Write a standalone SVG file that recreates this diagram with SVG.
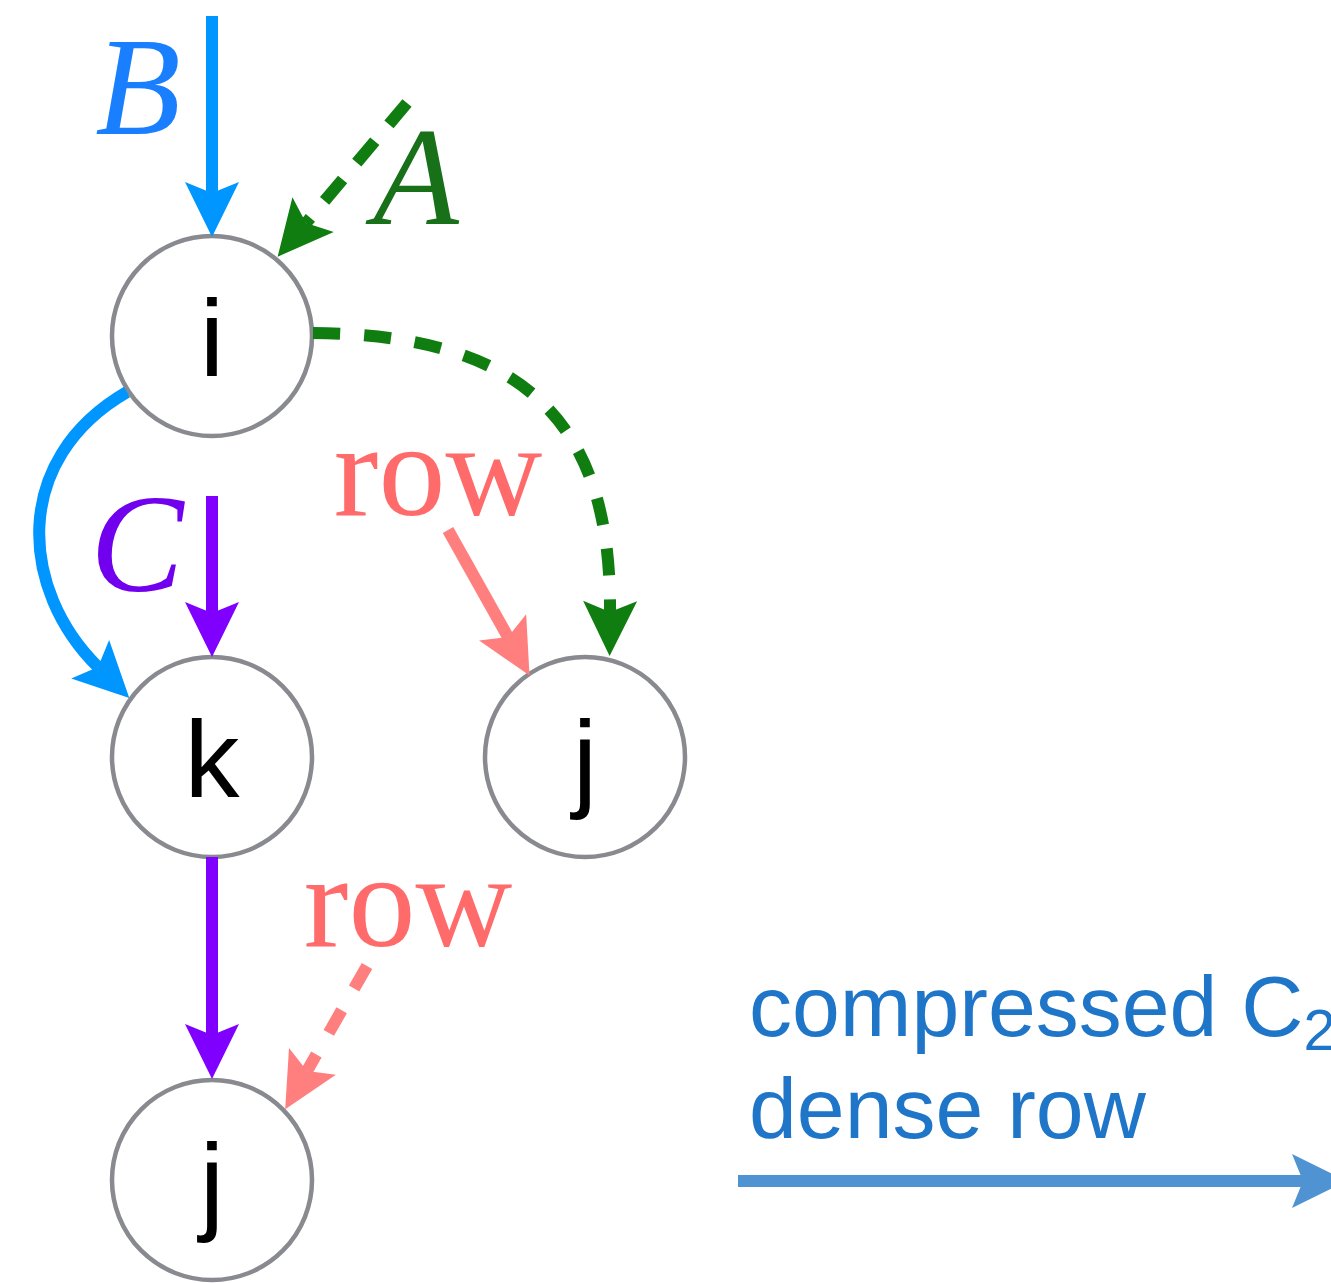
<svg xmlns="http://www.w3.org/2000/svg" width="1331" height="1283" viewBox="0 0 1331 1283">
  <style>
    .node circle { fill: #ffffff; stroke: #898a8f; stroke-width: 4.5; }
    .node text { font-family: "Liberation Sans", Arial, sans-serif; font-size: 110px; fill: #000000; text-anchor: middle; }
    .edge { fill: none; stroke-width: 12; stroke-linecap: butt; }
    .math { font-family: "Liberation Serif", "Times New Roman", serif; font-style: italic; font-size: 140px; text-anchor: middle; }
    .rowlbl { font-family: "Liberation Serif", "Times New Roman", serif; font-size: 134px; fill: #ff6b6b; text-anchor: middle; }
    .caption { font-family: "Liberation Sans", Arial, sans-serif; font-size: 86px; fill: #1f76c8; }
  </style>
  <defs>
    <marker id="ah-blue" markerUnits="userSpaceOnUse" markerWidth="60" markerHeight="60" refX="0" refY="0" orient="auto" overflow="visible">
      <path d="M44,0 L-11,-27 L0,0 L-11,27 Z" fill="#0096ff"/>
    </marker>
    <marker id="ah-green" markerUnits="userSpaceOnUse" markerWidth="60" markerHeight="60" refX="0" refY="0" orient="auto" overflow="visible">
      <path d="M44,0 L-11,-27 L0,0 L-11,27 Z" fill="#0f7d0f"/>
    </marker>
    <marker id="ah-purple" markerUnits="userSpaceOnUse" markerWidth="60" markerHeight="60" refX="0" refY="0" orient="auto" overflow="visible">
      <path d="M44,0 L-11,-27 L0,0 L-11,27 Z" fill="#7f00ff"/>
    </marker>
    <marker id="ah-pink" markerUnits="userSpaceOnUse" markerWidth="60" markerHeight="60" refX="0" refY="0" orient="auto" overflow="visible">
      <path d="M44,0 L-11,-27 L0,0 L-11,27 Z" fill="#ff7f7f"/>
    </marker>
    <marker id="ah-steel" markerUnits="userSpaceOnUse" markerWidth="60" markerHeight="60" refX="0" refY="0" orient="auto" overflow="visible">
      <path d="M44,0 L-11,-27 L0,0 L-11,27 Z" fill="#4f93d3"/>
    </marker>
  </defs>

  <g id="node-i" class="node">
    <circle cx="212" cy="336" r="100"/>
    <text x="212" y="376">i</text>
  </g>
  <g id="node-k" class="node">
    <circle cx="212" cy="757" r="100"/>
    <text x="212" y="797">k</text>
  </g>
  <g id="node-j-right" class="node">
    <circle cx="585" cy="757" r="100"/>
    <text x="585" y="797">j</text>
  </g>
  <g id="node-j-bottom" class="node">
    <circle cx="212" cy="1180" r="100"/>
    <text x="212" y="1220">j</text>
  </g>

  <g id="connectors">
    <path class="edge" d="M212,16 L212,193" stroke="#0096ff" marker-end="url(#ah-blue)"/>
    <path class="edge" d="M407,103 L306,223" stroke="#0f7d0f" stroke-dasharray="28 22" marker-end="url(#ah-green)"/>
    <path class="edge" d="M313,333 C500,335 612,400 610,612" stroke="#0f7d0f" stroke-dasharray="27 24" marker-end="url(#ah-green)"/>
    <path class="edge" d="M127,392 C10,460 20,590 98,667" stroke="#0096ff" marker-end="url(#ah-blue)"/>
    <path class="edge" d="M212,496 L212,613" stroke="#7f00ff" marker-end="url(#ah-purple)"/>
    <path class="edge" d="M448,530 L508,637" stroke="#ff7f7f" stroke-width="14" marker-end="url(#ah-pink)"/>
    <path class="edge" d="M212,857 L212,1035" stroke="#7f00ff" marker-end="url(#ah-purple)"/>
    <path class="edge" d="M367,966 L307,1071" stroke="#ff7f7f" stroke-width="11" stroke-dasharray="26 25" marker-end="url(#ah-pink)"/>
    <path class="edge" d="M738,1181 L1303,1181" stroke="#4f93d3" stroke-width="13" marker-end="url(#ah-steel)"/>
  </g>

  <g id="labels">
    <text class="math" x="138" y="134" fill="#1a7fff">B</text>
    <text class="math" x="416" y="224" fill="#187018">A</text>
    <text class="math" x="137" y="591" fill="#7000ee">C</text>
    <text class="rowlbl" x="438" y="515">row</text>
    <text class="rowlbl" x="408" y="946">row</text>
    <text class="caption" x="749" y="1036">compressed C<tspan font-size="58" dy="14">2</tspan></text>
    <text class="caption" x="749" y="1138">dense row</text>
  </g>
</svg>
